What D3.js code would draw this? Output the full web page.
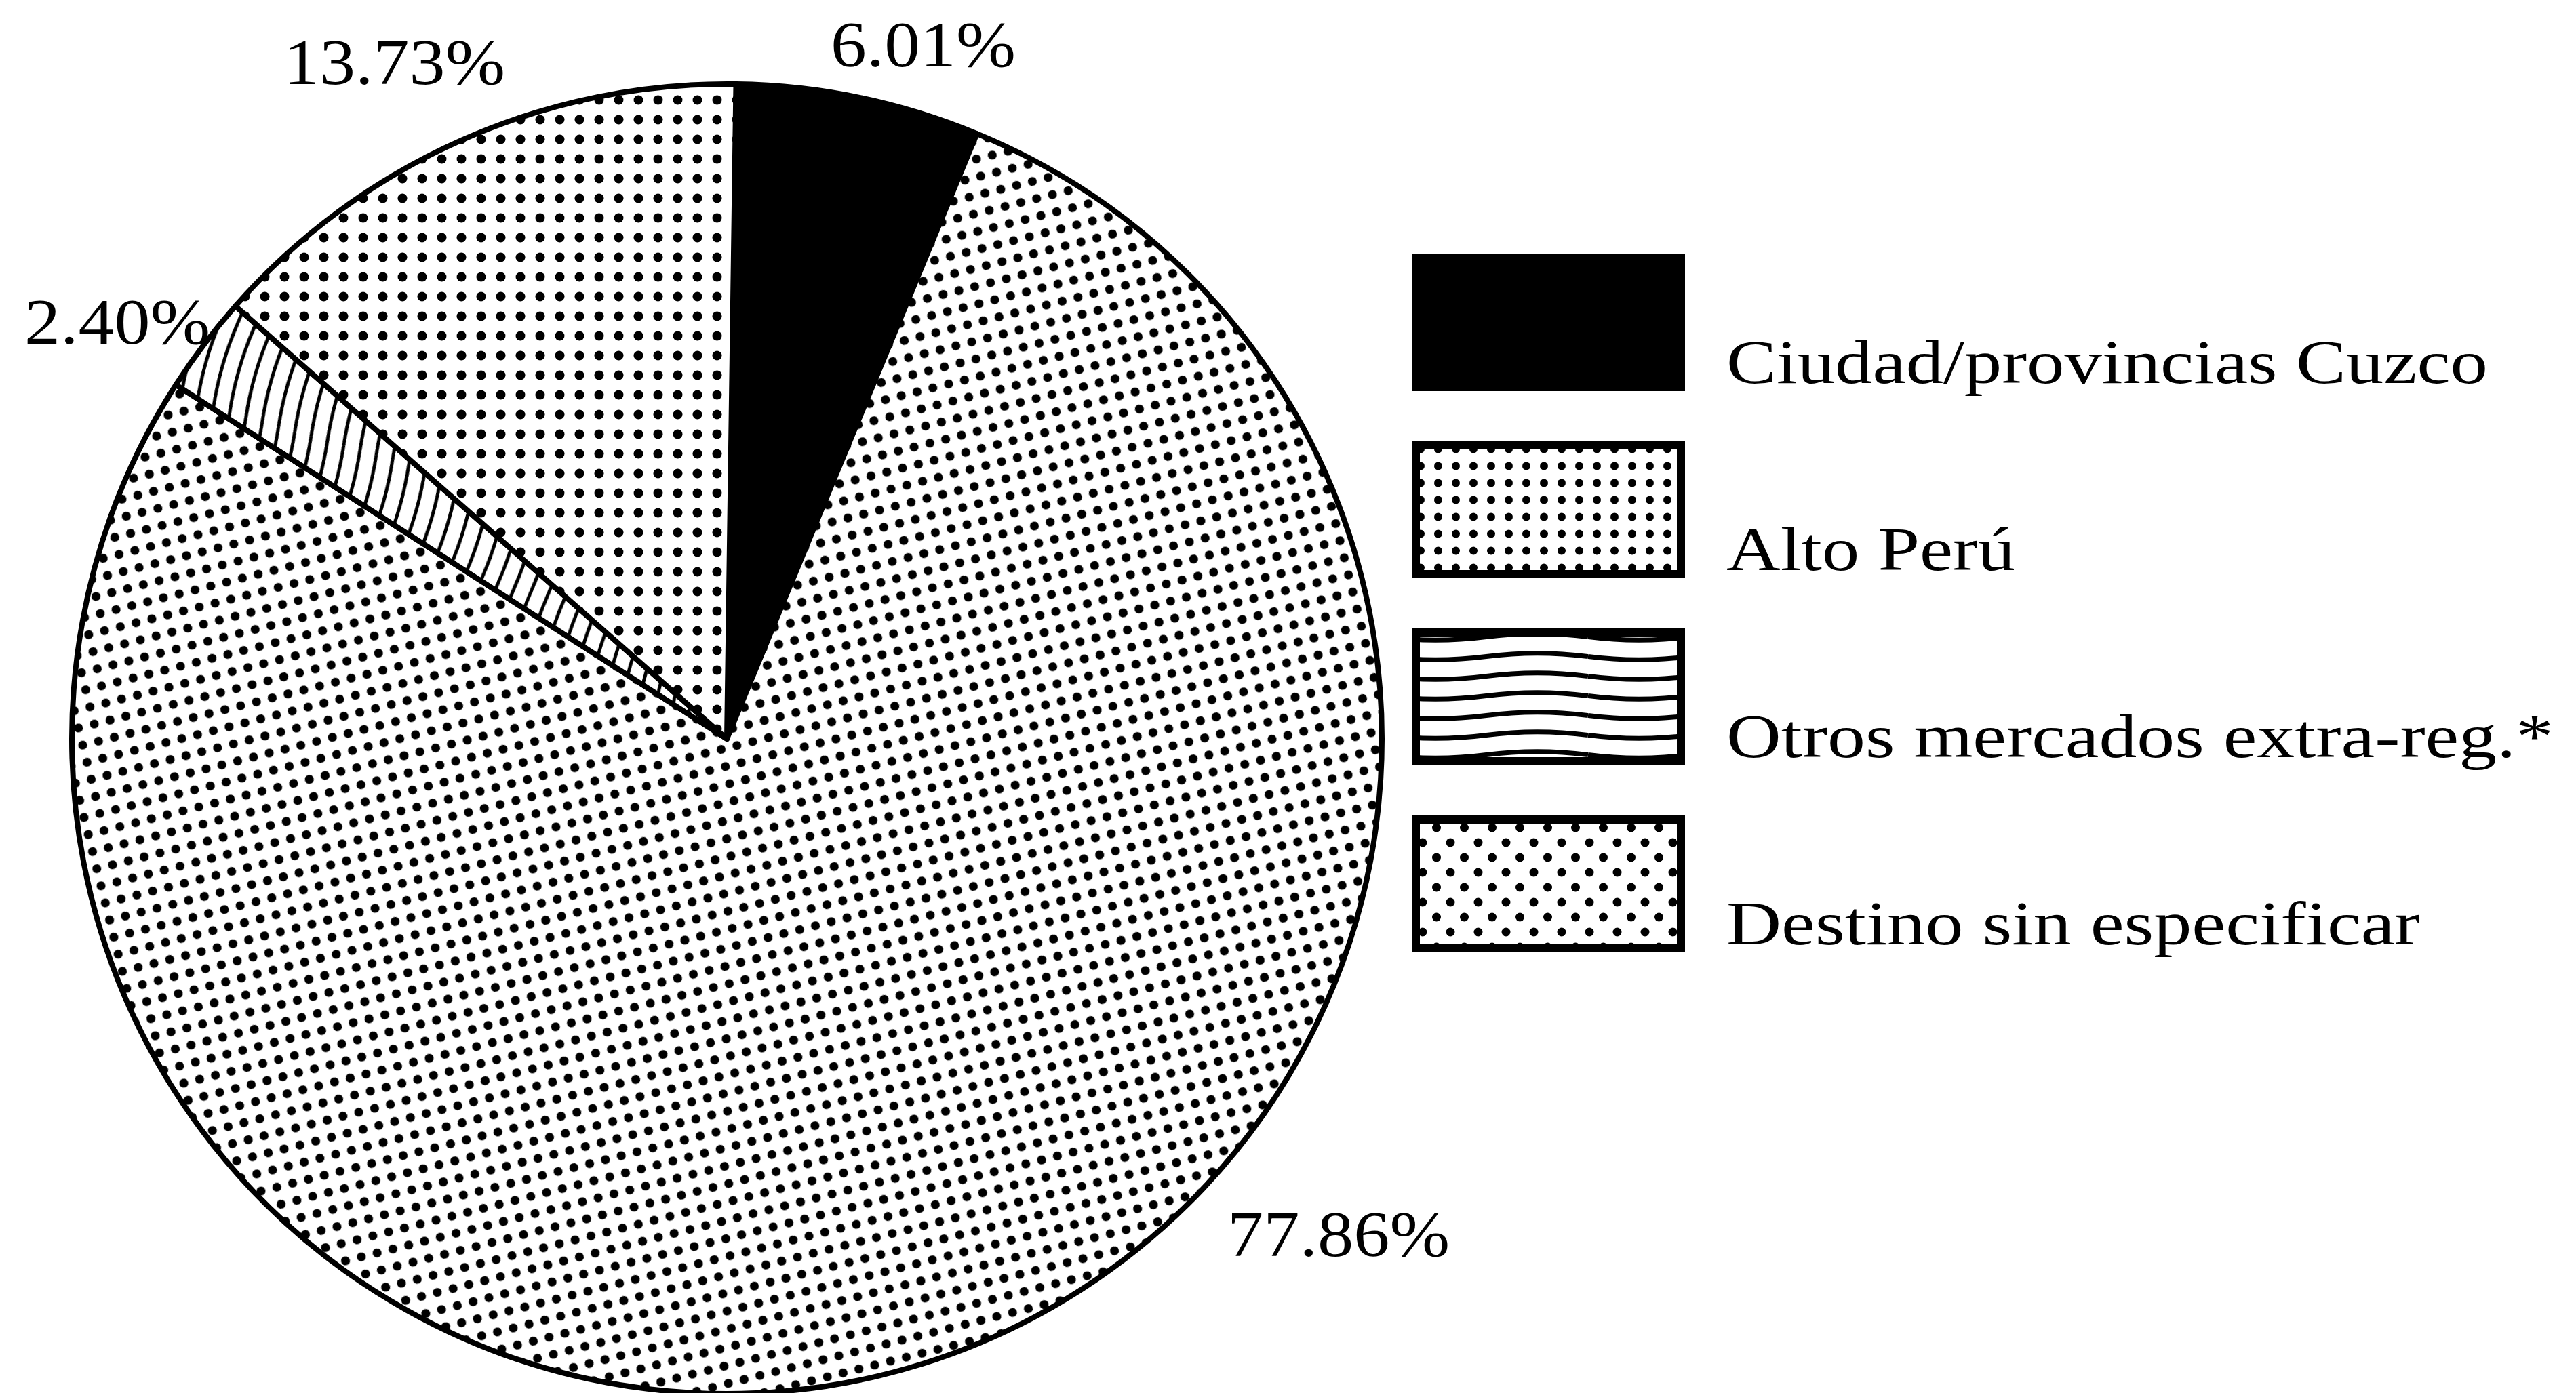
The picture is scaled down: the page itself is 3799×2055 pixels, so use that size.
<!DOCTYPE html>
<html>
<head>
<meta charset="utf-8">
<script src="https://cdn.jsdelivr.net/npm/d3@7"></script>
<style>
  html, body { margin: 0; padding: 0; background: #fff; }
  svg { display: block; }
  text { font-family: "Liberation Serif", "Times New Roman", serif; fill: #000; }
</style>
</head>
<body>
<div id="chart"></div>
<script>
// data
const categories = ["Ciudad/provincias Cuzco", "Alto Perú", "Otros mercados extra-reg.*", "Destino sin especificar"];
const shares = [6.01, 77.86, 2.40, 13.73];
const pctLabels = ["6.01%", "77.86%", "2.40%", "13.73%"];

// layout
const width = 3799, height = 2055;
const cx = 1072, cy = 1090, radius = 966;
const startOffset = 0.8 * Math.PI / 180;
// label anchor (start x, baseline y) and stretched text width
const labelPos = [[1225, 98, 273], [1810, 1853, 328], [36, 507, 274], [418, 124, 327]];
const legendX = 2082, legendTop = 375, legendStep = 276, boxW = 403, boxH = 202;
const legendTextX = 2546;
const legendTextW = [1123, 426, 1220, 1023];

const svg = d3.select("#chart").append("svg")
  .attr("width", width)
  .attr("height", height);

svg.append("rect").attr("width", width).attr("height", height).attr("fill", "#fff");

const defs = svg.append("defs");

// dense halftone for Alto Perú (pie)
const pAlto = defs.append("pattern")
  .attr("id", "altoPie").attr("patternUnits", "userSpaceOnUse")
  .attr("width", 24).attr("height", 26)
  .attr("patternTransform", "rotate(-14)");
pAlto.append("rect").attr("width", 24).attr("height", 26).attr("fill", "#fff");
pAlto.append("circle").attr("cx", 12).attr("cy", 13).attr("r", 6.6).attr("fill", "#000");

// legend version, axis aligned
const pAltoL = defs.append("pattern")
  .attr("id", "altoLeg").attr("patternUnits", "userSpaceOnUse")
  .attr("width", 26).attr("height", 25).attr("x", legendX).attr("y", 0);
pAltoL.append("rect").attr("width", 26).attr("height", 25).attr("fill", "#fff");
pAltoL.append("circle").attr("cx", 13).attr("cy", 12.5).attr("r", 6).attr("fill", "#000");

// sparse dots for Destino (pie)
const pDest = defs.append("pattern")
  .attr("id", "destPie").attr("patternUnits", "userSpaceOnUse")
  .attr("width", 29).attr("height", 29);
pDest.append("rect").attr("width", 29).attr("height", 29).attr("fill", "#fff");
pDest.append("circle").attr("cx", 14.5).attr("cy", 14.5).attr("r", 7).attr("fill", "#000");

// staggered dots for Destino (legend)
const pDestL = defs.append("pattern")
  .attr("id", "destLeg").attr("patternUnits", "userSpaceOnUse")
  .attr("width", 41).attr("height", 44).attr("x", legendX + 6).attr("y", 0);
pDestL.append("rect").attr("width", 41).attr("height", 44).attr("fill", "#fff");
pDestL.append("circle").attr("cx", 10).attr("cy", 11).attr("r", 6.5).attr("fill", "#000");
pDestL.append("circle").attr("cx", 30.5).attr("cy", 33).attr("r", 6.5).attr("fill", "#000");

// wavy lines for Otros (pie: waves running across the wedge)
const pOtros = defs.append("pattern")
  .attr("id", "otrosPie").attr("patternUnits", "userSpaceOnUse")
  .attr("width", 25).attr("height", 260)
  .attr("patternTransform", "rotate(16)");
pOtros.append("rect").attr("width", 25).attr("height", 260).attr("fill", "#fff");
pOtros.append("path")
  .attr("d", "M12.5,0 Q21,65 12.5,130 Q4,195 12.5,260")
  .attr("fill", "none").attr("stroke", "#000").attr("stroke-width", 5);

// wavy lines for Otros (legend: horizontal waves)
const pOtrosL = defs.append("pattern")
  .attr("id", "otrosLeg").attr("patternUnits", "userSpaceOnUse")
  .attr("width", 300).attr("height", 29).attr("x", legendX - 40).attr("y", 925);
pOtrosL.append("rect").attr("width", 300).attr("height", 29).attr("fill", "#fff");
pOtrosL.append("path")
  .attr("d", "M0,14.5 Q75,24 150,14.5 Q225,5 300,14.5")
  .attr("fill", "none").attr("stroke", "#000").attr("stroke-width", 7);

const pieFills = ["#000", "url(#altoPie)", "url(#otrosPie)", "url(#destPie)"];
const legFills = ["#000", "url(#altoLeg)", "url(#otrosLeg)", "url(#destLeg)"];

const pie = d3.pie().sort(null)
  .startAngle(startOffset)
  .endAngle(startOffset + 2 * Math.PI);
const arcs = pie(shares);
const arc = d3.arc().innerRadius(0).outerRadius(radius);

const g = svg.append("g").attr("transform", `translate(${cx},${cy})`);

g.selectAll("path.slice")
  .data(arcs)
  .join("path")
  .attr("class", "slice")
  .attr("d", arc)
  .attr("fill", (d, i) => pieFills[i])
  .attr("stroke", "#000")
  .attr("stroke-width", 8)
  .attr("stroke-linejoin", "round");

// percent labels
svg.selectAll("text.pct")
  .data(pctLabels)
  .join("text")
  .attr("class", "pct")
  .attr("x", (d, i) => labelPos[i][0])
  .attr("y", (d, i) => labelPos[i][1])
  .attr("textLength", (d, i) => labelPos[i][2])
  .attr("lengthAdjust", "spacingAndGlyphs")
  .attr("font-size", 96)
  .text(d => d);

// legend
const legend = svg.append("g");
const rowY = i => legendTop + i * legendStep;

legend.selectAll("rect.box")
  .data(categories)
  .join("rect")
  .attr("class", "box")
  .attr("x", legendX + 6)
  .attr("y", (d, i) => rowY(i) + 6)
  .attr("width", boxW - 12)
  .attr("height", boxH - 12)
  .attr("fill", (d, i) => legFills[i])
  .attr("stroke", "#000")
  .attr("stroke-width", 12);

legend.selectAll("text.lab")
  .data(categories)
  .join("text")
  .attr("class", "lab")
  .attr("x", legendTextX)
  .attr("y", (d, i) => rowY(i) + 190)
  .attr("textLength", (d, i) => legendTextW[i])
  .attr("lengthAdjust", "spacingAndGlyphs")
  .attr("font-size", 92)
  .text(d => d);
</script>
</body>
</html>
